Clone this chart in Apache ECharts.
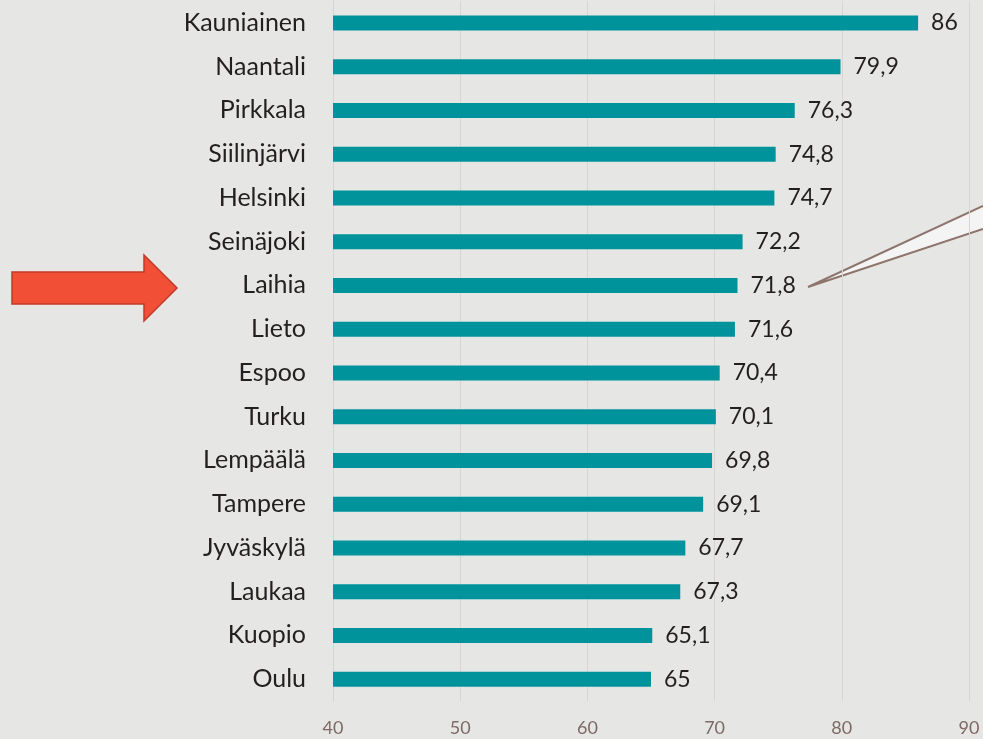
<!DOCTYPE html>
<html>
<head>
<meta charset="utf-8">
<script src="https://cdn.jsdelivr.net/npm/echarts@6/dist/echarts.min.js"></script>
<style>
html, body { margin: 0; padding: 0; background: #e6e6e4; }
#chart { width: 983px; height: 739px; }
</style>
</head>
<body>
<div id="chart"></div>
<script>
// kunnat ylhäältä alas
var kunnat = ["Kauniainen", "Naantali", "Pirkkala", "Siilinjärvi", "Helsinki", "Seinäjoki", "Laihia", "Lieto",
    "Espoo", "Turku", "Lempäälä", "Tampere", "Jyväskylä", "Laukaa", "Kuopio", "Oulu"];
var arvot = [86, 79.9, 76.3, 74.8, 74.7, 72.2, 71.8, 71.6, 70.4, 70.1, 69.8, 69.1, 67.7, 67.3, 65.1, 65];
var xTicks = [40, 50, 60, 70, 80, 90];

var chart = echarts.init(document.getElementById("chart"));

var option = {
    backgroundColor: "#e6e6e4",
    animation: false,
    grid: { left: 333, right: 14, top: 1, bottom: 38 },
    xAxis: {
        type: "value",
        min: xTicks[0],
        max: xTicks[xTicks.length - 1],
        interval: 10,
        axisLine: { show: false },
        axisTick: { show: false },
        splitLine: { show: true, lineStyle: { color: "#d9d3d1", width: 1 } },
        axisLabel: { color: "#7e6a64", fontFamily: "Lato", fontSize: 18, margin: 18 }
    },
    yAxis: {
        type: "category",
        inverse: true,
        data: kunnat,
        axisLine: { show: true, lineStyle: { color: "#d9d3d1" } },
        axisTick: { show: false },
        axisLabel: { color: "#231f20", fontFamily: "Lato", fontSize: 25, margin: 27 }
    },
    series: [{
        type: "bar",
        data: arvot,
        barWidth: 15,
        itemStyle: { color: "#00939c" },
        label: {
            show: true,
            position: "right",
            distance: 13,
            color: "#231f20",
            fontFamily: "Lato",
            fontSize: 23,
            formatter: function (p) { return String(p.value).replace(".", ","); }
        }
    }],
    graphic: [
        // nuoli
        {
            type: "polygon",
            shape: { points: [[12, 272], [144, 272], [144, 255], [177, 288], [144, 321], [144, 304], [12, 304]] },
            style: { fill: "#f24f37", stroke: "#c23a28", lineWidth: 1.5 }
        },
        // puhekupla
        {
            type: "polygon",
            shape: { points: [[808, 287], [983, 206], [983, 229]] },
            style: { fill: "#f4f4f4", stroke: "none" }
        },
        {
            type: "polyline",
            shape: { points: [[983, 206], [808, 287], [983, 229]] },
            style: { fill: null, stroke: "#8d746c", lineWidth: 2 }
        }
    ]
};
chart.setOption(option);
</script>
</body>
</html>
